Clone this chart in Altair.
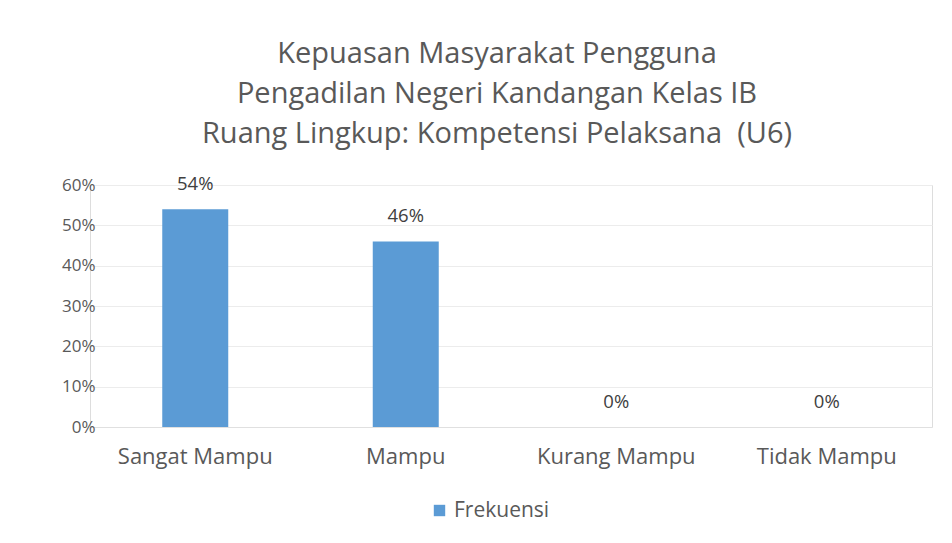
import altair as alt
import pandas as pd

categories = ["Sangat Mampu", "Mampu", "Kurang Mampu", "Tidak Mampu"]
values = [0.54, 0.46, 0.0, 0.0]
series = ["Frekuensi"] * 4

df = pd.DataFrame({"Kategori": categories, "Nilai": values, "Seri": series})

FONT = "Open Sans"
GREY = "#595959"

base = alt.Chart(df)

bars = base.mark_bar(size=66, color="#5b9bd5").encode(
    x=alt.X("Kategori:N", sort=categories, title=None,
            axis=alt.Axis(labelAngle=0, labelFontSize=22, labelColor=GREY, labelFont=FONT,
                          ticks=False, grid=False, domainColor="#e0e0e0", labelPadding=19)),
    y=alt.Y("Nilai:Q", title=None, scale=alt.Scale(domain=[0, 0.6], nice=False),
            axis=alt.Axis(format=".0%", values=[0, 0.1, 0.2, 0.3, 0.4, 0.5, 0.6],
                          labelFontSize=17, labelColor=GREY, labelFont=FONT,
                          ticks=False, domain=False, gridColor="#ececec", labelPadding=-5)),
    color=alt.Color("Seri:N", scale=alt.Scale(range=["#5b9bd5"]),
                    legend=alt.Legend(title=None, orient="none", legendX=339, legendY=315,
                                      symbolType="square", symbolSize=130,
                                      labelFontSize=21, labelColor=GREY, labelFont=FONT)),
)

labels = base.mark_text(baseline="alphabetic", dy=-19, fontSize=18.5, color="#404040", font=FONT).encode(
    x=alt.X("Kategori:N", sort=categories),
    y="Nilai:Q",
    text=alt.Text("Nilai:Q", format=".0%"),
)

chart = (bars + labels).properties(
    width=842, height=242,
    padding={"left": 90, "top": 185, "right": 20, "bottom": 116},
    autosize=alt.AutoSizeParams(type="none"),
    title=alt.TitleParams(
        ["Kepuasan Masyarakat Pengguna", "Pengadilan Negeri Kandangan Kelas IB",
         "Ruang Lingkup: Kompetensi Pelaksana\u00a0 (U6)"],
        fontSize=29, font=FONT, color=GREY, fontWeight="normal",
        anchor="middle", lineHeight=40, offset=26, dx=-14,
    ),
).configure_view(strokeOpacity=0).configure(background="white")

chart.save("out.html", embed_options={"renderer": "svg", "actions": False})
